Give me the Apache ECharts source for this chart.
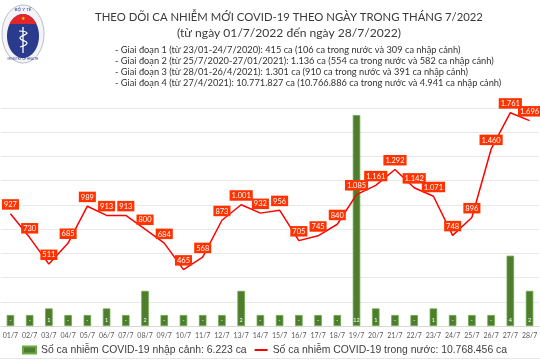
<!DOCTYPE html>
<html><head><meta charset="utf-8">
<script src="https://cdn.jsdelivr.net/npm/echarts@6/dist/echarts.min.js"></script>
<style>html,body{margin:0;padding:0;background:#fff}#c{width:540px;height:360px}</style>
</head><body><div id="c"></div>
<script>
const days = ['01/7','02/7','03/7','04/7','05/7','06/7','07/7','08/7','09/7','10/7','11/7','12/7','13/7','14/7','15/7','16/7','17/7','18/7','19/7','20/7','21/7','22/7','23/7','24/7','25/7','26/7','27/7','28/7'];
const imported = [0,0,1,0,0,1,0,2,0,0,0,0,2,0,0,0,0,0,12,1,0,0,1,0,0,0,4,2];
const domestic = [927,730,511,685,989,913,913,800,684,465,568,873,1001,932,956,705,745,840,1085,1161,1292,1142,1071,748,896,1460,1761,1696];
const importedName = 'Số ca nhiễm COVID-19 nhập cảnh: 6.223 ca';
const domesticName = 'Số ca nhiễm COVID-19 trong nước: 10.768.456 ca';
const titleText = 'THEO DÕI CA NHIỄM MỚI COVID-19 THEO NGÀY TRONG THÁNG 7/2022';
const subtitleText = '(từ ngày 01/7/2022 đến ngày 28/7/2022)';
const notes = [
 '- Giai đoạn 1 (từ 23/01-24/7/2020): 415 ca (106 ca trong nước và 309 ca nhập cảnh)',
 '- Giai đoạn 2 (từ 25/7/2020-27/01/2021): 1.136 ca (554 ca trong nước và 582 ca nhập cảnh)',
 '- Giai đoạn 3 (từ 28/01-26/4/2021): 1.301 ca (910 ca trong nước và 391 ca nhập cảnh)',
 '- Giai đoạn 4 (từ 27/4/2021): 10.771.827 ca (10.766.886 ca trong nước và 4.941 ca nhập cảnh)'
];

const fmt = v => String(v).replace(/\B(?=(\d{3})+(?!\d))/g, '.');
const FONT = 'Lato, "Open Sans", sans-serif';

// logo red cap: upper part of the inner ellipse
const cap = [];
(function(){
  const cx = 23, cy = 36, rx = 16, ry = 22, yc = 24;
  const t0 = Math.asin((cy - yc) / ry);
  for (let k = 0; k <= 24; k++) {
    const t = t0 + (Math.PI - 2 * t0) * k / 24;
    cap.push([cx + rx * Math.cos(t), cy - ry * Math.sin(t)]);
  }
})();

const graphics = [
  {type:'text', x:289, y:17, style:{text:titleText, align:'center', verticalAlign:'middle', fontSize:11.3, fontFamily:FONT, fill:'#3a3a3a'}},
  {type:'text', x:289, y:33, style:{text:subtitleText, align:'center', verticalAlign:'middle', fontSize:12.1, fontFamily:FONT, fill:'#3a3a3a'}},
  {type:'ellipse', shape:{cx:23, cy:34, rx:21, ry:29}, style:{fill:'#f4f4f8', stroke:'#b9bccb', lineWidth:1}},
  {type:'ellipse', shape:{cx:23, cy:36, rx:16, ry:22}, style:{fill:'#2a3a8c'}},
  {type:'polygon', shape:{points:cap}, style:{fill:'#e3262b'}},
  {type:'text', x:23, y:10, style:{text:'BỘ Y TẾ', align:'center', verticalAlign:'middle', fontSize:4.5, fontFamily:FONT, fill:'#2a3a8c'}},
  {type:'text', x:23, y:19, style:{text:'★', align:'center', verticalAlign:'middle', fontSize:5, fill:'#ffd700'}},
  {type:'line', shape:{x1:23, y1:27, x2:23, y2:53}, style:{stroke:'#fff', lineWidth:1.3}},
  {type:'polyline', shape:{points:[[19,31],[27,33],[20,38],[27,43],[20,47]], smooth:0.5}, style:{fill:null, stroke:'#fff', lineWidth:1.2}},
  {type:'text', x:23, y:59, style:{text:'MINISTRY OF HEALTH', align:'center', verticalAlign:'middle', fontSize:3, fontFamily:FONT, fill:'#2a3a8c'}},
  {type:'line', shape:{x1:0, y1:358.5, x2:540, y2:358.5}, style:{stroke:'#e6e6e6', lineWidth:1}}
];
notes.forEach((t, i) => graphics.push({type:'text', x:115, y:50.5 + i*10.7, style:{text:t, align:'left', verticalAlign:'middle', fontSize:9.25, fontFamily:FONT, fill:'#333'}}));

const chart = echarts.init(document.getElementById('c'), null, {renderer:'canvas'});
chart.setOption({
  animation:false,
  backgroundColor:'#fff',
  graphic: graphics,
  grid:{left:-4, right:-7, top:108, bottom:34},
  legend:{
    left:22, top:345, width:530, itemWidth:13, itemHeight:7, itemGap:7, padding:0,
    textStyle:{fontSize:10.4, fontFamily:'"Liberation Sans", Arial, sans-serif', color:'#404040'},
    data:[{name:importedName, icon:'rect'}, {name:domesticName, itemStyle:{opacity:0}}]
  },
  xAxis:{type:'category', data:days, axisTick:{show:false},
    axisLine:{lineStyle:{color:'#d9d9d9'}},
    axisLabel:{fontSize:7, color:'#595959', margin:6, fontFamily:FONT, interval:0}},
  yAxis:[
    {type:'value', min:0, max:12.4, show:false},
    {type:'value', min:0, max:1800, interval:200, axisLabel:{show:false}, axisLine:{show:false}, axisTick:{show:false},
     splitLine:{lineStyle:{color:'#e8e8e8', width:1.2}}}
  ],
  series:[
    {name:importedName, type:'bar', yAxisIndex:0, data:imported, barWidth:7.5, barMinHeight:11,
     itemStyle:{color:'#4e7d2e', borderColor:'#6aa948', borderWidth:0.8},
     label:{show:true, position:'insideBottom', distance:3, fontSize:5.5, color:'#fff', fontFamily:FONT,
       formatter:p => p.value === 0 ? '-' : String(p.value)}},
    {name:domesticName, type:'line', yAxisIndex:1, data:domestic, symbol:'circle', symbolSize:0.1, showSymbol:true, z:5,
     lineStyle:{color:'#ff0000', width:1.5}, itemStyle:{color:'#ff0000'},
     label:{show:true, position:'top', distance:4, fontSize:7.5, color:'#fff', fontFamily:FONT,
       backgroundColor:'#ff3300', padding:[1.5,2,1,2], formatter:p => fmt(p.value)}}
  ]
});
</script></body></html>
